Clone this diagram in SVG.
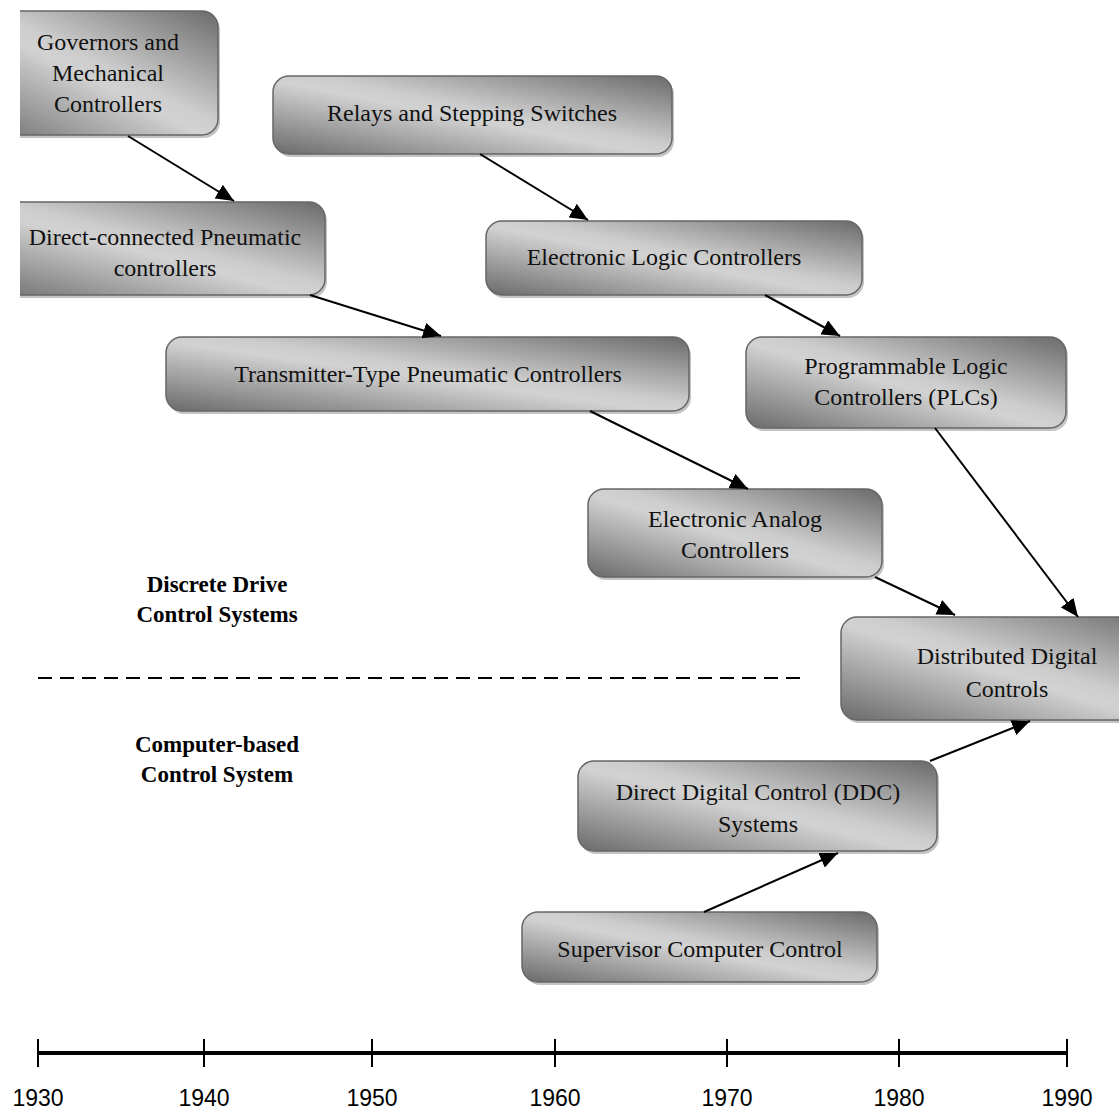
<svg xmlns="http://www.w3.org/2000/svg" width="1119" height="1110" viewBox="0 0 1119 1110">
  <defs>
    <linearGradient id="boxFill" x1="0" y1="1" x2="1" y2="0">
      <stop offset="0" stop-color="#6a6a6a"/>
      <stop offset="0.47" stop-color="#d2d2d2"/>
      <stop offset="0.55" stop-color="#cdcdcd"/>
      <stop offset="1" stop-color="#6a6a6a"/>
    </linearGradient>
    <marker id="arrow" markerUnits="userSpaceOnUse" markerWidth="20" markerHeight="16" refX="18" refY="8" orient="auto">
      <path d="M0,0 L18,8 L0,16 z" fill="#000"/>
    </marker>
    <clipPath id="page">
      <rect x="20" y="0" width="1099" height="1110"/>
    </clipPath>
    <style>
      .shadow { fill: #c4c4c4; }
      .box { fill: url(#boxFill); stroke: #666; stroke-width: 1.5; }
      .label { font-family: "Liberation Serif", "Times New Roman", serif; font-size: 24px; fill: #111; text-anchor: middle; }
      .era { font-family: "Liberation Serif", "Times New Roman", serif; font-size: 23px; font-weight: bold; fill: #000; text-anchor: middle; }
      .year { font-family: "Liberation Sans", Arial, sans-serif; font-size: 23px; fill: #000; text-anchor: middle; }
      .link { stroke: #000; stroke-width: 2; fill: none; marker-end: url(#arrow); }
    </style>
  </defs>

  <rect width="1119" height="1110" fill="#fff"/>

  <g clip-path="url(#page)">
    <g id="governors">
      <rect class="shadow" x="-28" y="14" width="248" height="124" rx="16"/>
      <rect class="box" x="-30" y="11" width="248" height="124" rx="16"/>
      <text class="label" x="108" y="50">Governors and</text>
      <text class="label" x="108" y="81">Mechanical</text>
      <text class="label" x="108" y="112">Controllers</text>
    </g>

    <g id="relays">
      <rect class="shadow" x="275" y="79" width="399" height="78" rx="16"/>
      <rect class="box" x="273" y="76" width="399" height="78" rx="16"/>
      <text class="label" x="472" y="121">Relays and Stepping Switches</text>
    </g>

    <g id="direct-pneumatic">
      <rect class="shadow" x="-28" y="205" width="355" height="93" rx="16"/>
      <rect class="box" x="-30" y="202" width="355" height="93" rx="16"/>
      <text class="label" x="165" y="245">Direct-connected Pneumatic</text>
      <text class="label" x="165" y="276">controllers</text>
    </g>

    <g id="electronic-logic">
      <rect class="shadow" x="488" y="224" width="376" height="74" rx="16"/>
      <rect class="box" x="486" y="221" width="376" height="74" rx="16"/>
      <text class="label" x="664" y="265">Electronic Logic Controllers</text>
    </g>

    <g id="transmitter-pneumatic">
      <rect class="shadow" x="168" y="340" width="523" height="74" rx="16"/>
      <rect class="box" x="166" y="337" width="523" height="74" rx="16"/>
      <text class="label" x="428" y="382">Transmitter-Type Pneumatic Controllers</text>
    </g>

    <g id="plc">
      <rect class="shadow" x="748" y="340" width="320" height="91" rx="16"/>
      <rect class="box" x="746" y="337" width="320" height="91" rx="16"/>
      <text class="label" x="906" y="374">Programmable Logic</text>
      <text class="label" x="906" y="405">Controllers (PLCs)</text>
    </g>

    <g id="electronic-analog">
      <rect class="shadow" x="590" y="492" width="294" height="88" rx="16"/>
      <rect class="box" x="588" y="489" width="294" height="88" rx="16"/>
      <text class="label" x="735" y="527">Electronic Analog</text>
      <text class="label" x="735" y="558">Controllers</text>
    </g>

    <g id="distributed-digital">
      <rect class="shadow" x="843" y="620" width="332" height="103" rx="16"/>
      <rect class="box" x="841" y="617" width="332" height="103" rx="16"/>
      <text class="label" x="1007" y="664">Distributed Digital</text>
      <text class="label" x="1007" y="697">Controls</text>
    </g>

    <g id="ddc">
      <rect class="shadow" x="580" y="764" width="359" height="90" rx="16"/>
      <rect class="box" x="578" y="761" width="359" height="90" rx="16"/>
      <text class="label" x="758" y="800">Direct Digital Control (DDC)</text>
      <text class="label" x="758" y="832">Systems</text>
    </g>

    <g id="supervisor">
      <rect class="shadow" x="524" y="915" width="355" height="70" rx="16"/>
      <rect class="box" x="522" y="912" width="355" height="70" rx="16"/>
      <text class="label" x="700" y="957">Supervisor Computer Control</text>
    </g>
  </g>

  <!-- evolution arrows -->
  <g id="connectors">
    <line class="link" x1="128" y1="136" x2="234" y2="201"/>
    <line class="link" x1="480" y1="154" x2="588" y2="220"/>
    <line class="link" x1="310" y1="295" x2="441" y2="336"/>
    <line class="link" x1="765" y1="295" x2="840" y2="336"/>
    <line class="link" x1="590" y1="411" x2="748" y2="489"/>
    <line class="link" x1="935" y1="428" x2="1078" y2="617"/>
    <line class="link" x1="875" y1="577" x2="955" y2="615"/>
    <line class="link" x1="930" y1="761" x2="1030" y2="721"/>
    <line class="link" x1="704" y1="912" x2="838" y2="853"/>
  </g>

  <!-- era captions and divider -->
  <g id="eras">
    <text class="era" x="217" y="592">Discrete Drive</text>
    <text class="era" x="217" y="622">Control Systems</text>
    <line x1="38" y1="678" x2="800" y2="678" stroke="#000" stroke-width="2" stroke-dasharray="14 8"/>
    <text class="era" x="217" y="752">Computer-based</text>
    <text class="era" x="217" y="782">Control System</text>
  </g>

  <!-- time axis -->
  <g id="timeline">
    <line x1="38" y1="1053" x2="1067" y2="1053" stroke="#000" stroke-width="4"/>
    <g stroke="#000" stroke-width="2">
      <line x1="38" y1="1039" x2="38" y2="1067"/>
      <line x1="204" y1="1039" x2="204" y2="1067"/>
      <line x1="372" y1="1039" x2="372" y2="1067"/>
      <line x1="555" y1="1039" x2="555" y2="1067"/>
      <line x1="727" y1="1039" x2="727" y2="1067"/>
      <line x1="899" y1="1039" x2="899" y2="1067"/>
      <line x1="1067" y1="1039" x2="1067" y2="1067"/>
    </g>
    <text class="year" x="38" y="1106">1930</text>
    <text class="year" x="204" y="1106">1940</text>
    <text class="year" x="372" y="1106">1950</text>
    <text class="year" x="555" y="1106">1960</text>
    <text class="year" x="727" y="1106">1970</text>
    <text class="year" x="899" y="1106">1980</text>
    <text class="year" x="1067" y="1106">1990</text>
  </g>
</svg>
